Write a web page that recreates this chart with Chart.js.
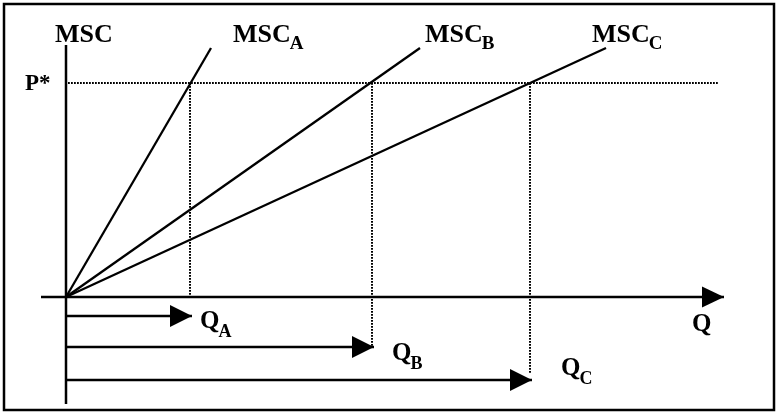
<!DOCTYPE html>
<html><head><meta charset="utf-8">
<script src="https://cdn.jsdelivr.net/npm/chart.js@4/dist/chart.umd.min.js"></script>
<style>html,body{margin:0;padding:0;background:#fff}#wrap{width:778px;height:412px}</style>
</head><body><div id="wrap"><canvas id="c" width="778" height="412"></canvas></div>
<script>
// ---- data (arbitrary units, origin at 0,0) ----
const curveNames   = ['A', 'B', 'C'];
const curveEndQ    = [145, 354, 540];   // Q at the upper end of each MSC line
const curveEndMSC  = [249, 249, 249];   // MSC at the upper end of each MSC line
const pStar        = 214;               // price level P*
const qStar        = [124, 306, 464];   // Q_A, Q_B, Q_C where MSC = P*
const axisQRange   = [-25, 658];
const axisMSCRange = [-107, 252];

// ---- layout helpers (positions only, not data) ----
const arrowRows = [-19, -50, -83];   // vertical placement of the Q arrows
const dropEnds  = [0, -50, -76];     // where dotted drop lines stop

const black = '#000';
const datasets = [];
// vertical axis
datasets.push({ data: [{x:0, y:axisMSCRange[0]}, {x:0, y:axisMSCRange[1]}], borderWidth: 2.5 });
// horizontal axis with arrow
datasets.push({ data: [{x:axisQRange[0], y:0}, {x:axisQRange[1], y:0}], borderWidth: 2.5, arrowHead: {len: 22, half: 10.5} });
// MSC lines
curveNames.forEach((n, i) => {
  datasets.push({ label: 'MSC' + n, data: [{x:0, y:0}, {x:curveEndQ[i], y:curveEndMSC[i]}], borderWidth: 2.3 });
});
// P* dotted line
datasets.push({ data: [{x:2, y:pStar}, {x:652, y:pStar}], borderWidth: 2, borderDash: [1.8, 1.2] });
// dotted drops
qStar.forEach((q, i) => {
  datasets.push({ data: [{x:q, y:pStar}, {x:q, y:dropEnds[i]}], borderWidth: 2, borderDash: [1.8, 1.2] });
});
// Q arrows
qStar.forEach((q, i) => {
  datasets.push({ data: [{x:0, y:arrowRows[i]}, {x:q + 2, y:arrowRows[i]}], borderWidth: 2.3, arrowHead: {len: 22, half: 11} });
});
datasets.forEach(d => { d.borderColor = black; d.pointRadius = 0; d.showLine = true; d.clip = false; d.tension = 0; d.fill = false; });

const FONT = '"Liberation Serif", "Times New Roman", serif';
const labels = [
  { t: 'MSC', s: '',  x: -11, y: 255, size: 26, subSize: 19, off: 7 },
  { t: 'MSC', s: 'A', x: 167, y: 255, size: 26, subSize: 19, off: 7 },
  { t: 'MSC', s: 'B', x: 359, y: 255, size: 26, subSize: 19, off: 7 },
  { t: 'MSC', s: 'C', x: 526, y: 255, size: 26, subSize: 19, off: 7 },
  { t: 'P*',  s: '',  x: -41, y: 207, size: 23, subSize: 16, off: 0 },
  { t: 'Q',   s: 'A', x: 134, y: -31, size: 25, subSize: 18, off: 9 },
  { t: 'Q',   s: 'B', x: 326, y: -63, size: 25, subSize: 18, off: 9 },
  { t: 'Q',   s: 'C', x: 495, y: -78, size: 25, subSize: 18, off: 9 },
  { t: 'Q',   s: '',  x: 626, y: -34, size: 25, subSize: 18, off: 0 }
];

const diagramPlugin = {
  id: 'diagram',
  beforeDraw(chart) {
    const ctx = chart.ctx;
    ctx.save();
    ctx.fillStyle = '#fff';
    ctx.fillRect(0, 0, chart.width, chart.height);
    ctx.strokeStyle = black;
    ctx.lineWidth = 2.5;
    ctx.strokeRect(4, 4, chart.width - 8, chart.height - 6);
    ctx.restore();
  },
  afterDatasetsDraw(chart) {
    const ctx = chart.ctx;
    ctx.save();
    ctx.fillStyle = black;
    chart.data.datasets.forEach((ds, i) => {
      if (!ds.arrowHead) return;
      const pts = chart.getDatasetMeta(i).data;
      const tip = pts[pts.length - 1];
      const { len, half } = ds.arrowHead;
      ctx.beginPath();
      ctx.moveTo(tip.x, tip.y);
      ctx.lineTo(tip.x - len, tip.y - half);
      ctx.lineTo(tip.x - len, tip.y + half);
      ctx.closePath();
      ctx.fill();
    });
    const xs = chart.scales.x, ys = chart.scales.y;
    ctx.textBaseline = 'alphabetic';
    ctx.textAlign = 'left';
    labels.forEach(l => {
      const px = xs.getPixelForValue(l.x), py = ys.getPixelForValue(l.y);
      ctx.font = 'bold ' + l.size + 'px ' + FONT;
      ctx.fillText(l.t, px, py);
      if (l.s) {
        const w = ctx.measureText(l.t).width;
        ctx.font = 'bold ' + l.subSize + 'px ' + FONT;
        ctx.fillText(l.s, px + w - 1, py + l.off);
      }
    });
    ctx.restore();
  }
};

new Chart(document.getElementById('c'), {
  type: 'scatter',
  data: { datasets },
  options: {
    responsive: false,
    animation: false,
    devicePixelRatio: 1,
    layout: { padding: { left: 41, right: 54, top: 45, bottom: 8 } },
    plugins: { legend: { display: false }, tooltip: { enabled: false } },
    scales: {
      x: { type: 'linear', display: false, min: axisQRange[0], max: axisQRange[1] },
      y: { type: 'linear', display: false, min: axisMSCRange[0], max: axisMSCRange[1] }
    }
  },
  plugins: [diagramPlugin]
});
</script></body></html>
